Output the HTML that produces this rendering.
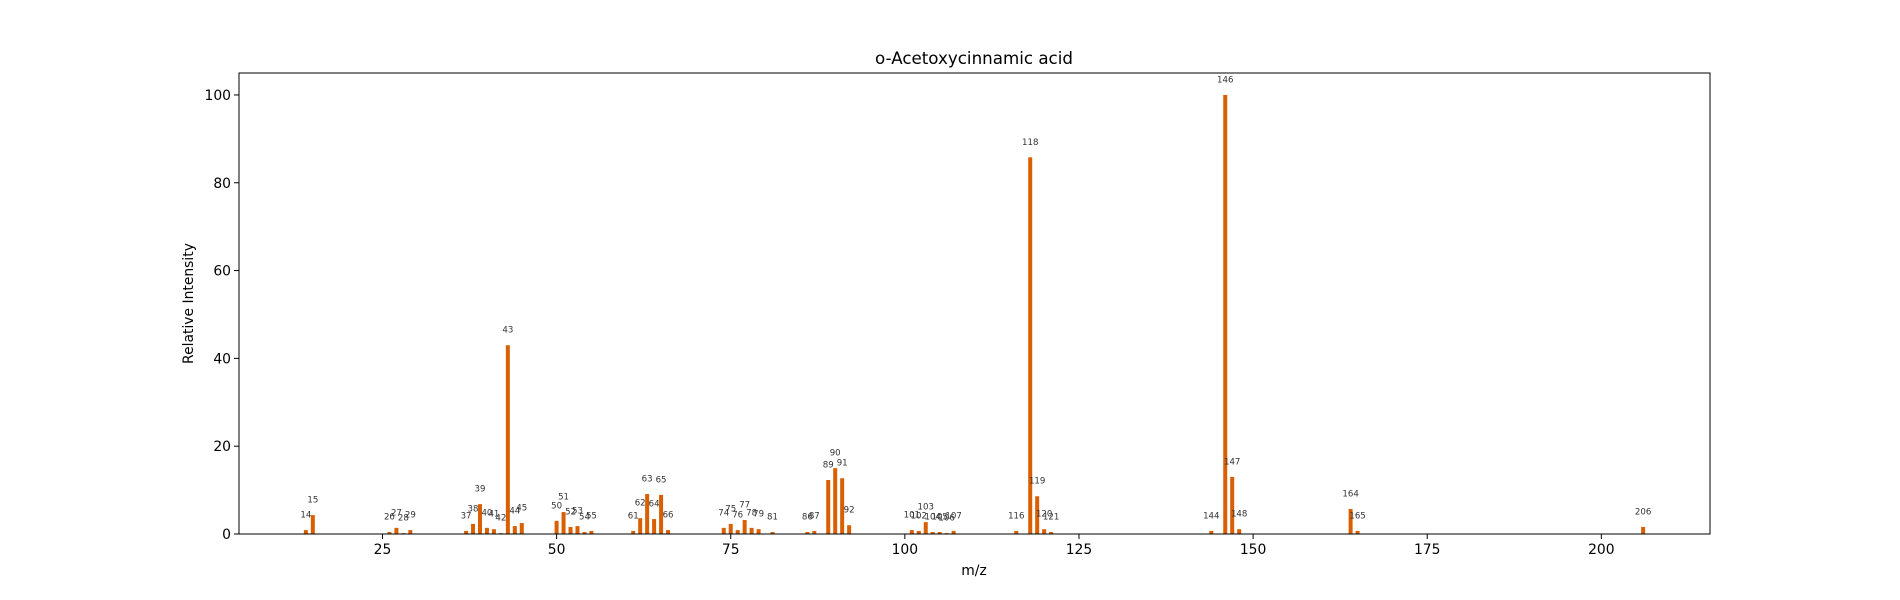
<!DOCTYPE html>
<html><head><meta charset="utf-8"><style>
body{margin:0;background:#fff;}
svg{display:block;font-family:"DejaVu Sans","Liberation Sans",sans-serif;}
</style></head><body>
<svg id="chart" width="1900" height="600" viewBox="0 0 1900 600" xmlns="http://www.w3.org/2000/svg">
<rect width="1900" height="600" fill="#fff"/>
<text x="974" y="64" font-size="16.7" text-anchor="middle" fill="#000">o-Acetoxycinnamic acid</text>
<g id="bars"></g>
<g id="labels"></g>
<g id="axes"></g>
<text x="974" y="575" font-size="13.9" text-anchor="middle">m/z</text>
<text transform="translate(193,303.5) rotate(-90)" font-size="13.9" text-anchor="middle">Relative Intensity</text>
</svg>
<script>
const mz = [14,15,26,27,28,29,37,38,39,40,41,42,43,44,45,50,51,52,53,54,55,61,62,63,64,65,66,74,75,76,77,78,79,81,86,87,89,90,91,92,101,102,103,104,105,106,107,116,118,119,120,121,144,146,147,148,164,165,206];
const intensity = [0.9,4.3,0.45,1.4,0.2,0.9,0.7,2.3,6.8,1.4,1.1,0.2,43,1.8,2.5,3.0,5.0,1.6,1.8,0.45,0.7,0.7,3.6,9.1,3.4,8.9,0.9,1.4,2.3,0.9,3.2,1.4,1.1,0.45,0.45,0.7,12.3,15,12.7,2.0,0.9,0.7,2.7,0.45,0.45,0.2,0.7,0.7,85.8,8.6,1.1,0.45,0.7,100,13.0,1.1,5.7,0.7,1.6];
const xTicks = [25,50,75,100,125,150,175,200];
const yTicks = [0,20,40,60,80,100];
const xMin=4.4, xMax=215.6, yMin=0, yMax=105;
const L=239, R=1710, T=73, B=534;
const NS='http://www.w3.org/2000/svg';
const xs = v => L + (v - xMin) / (xMax - xMin) * (R - L);
const ys = v => B - (v - yMin) / (yMax - yMin) * (B - T);
function mk(tag, attrs, parent){const e=document.createElementNS(NS,tag);for(const k in attrs)e.setAttribute(k,attrs[k]);parent.appendChild(e);return e;}
const gb=document.getElementById('bars'), gl=document.getElementById('labels'), ga=document.getElementById('axes');
mz.forEach((m,i)=>{
  const v=intensity[i];
  const r=mk('rect',{x:xs(m)-2,y:ys(v),width:4,height:B-ys(v),fill:'#d95f02'},gb);
  
  
  const t=mk('text',{x:xs(m),y:ys(v)-12.5,'font-size':'8.6','text-anchor':'middle',fill:'#333'},gl);
  t.textContent=m;
  
  
});
const frame=mk('rect',{x:L,y:T,width:R-L,height:B-T,fill:'none',stroke:'#000','stroke-width':1},ga);


xTicks.forEach(v=>{
  const x=xs(v);
  mk('line',{x1:x,x2:x,y1:B,y2:B+5,stroke:'#000'},ga);
  const t=mk('text',{x:x,y:B+20,'font-size':'13.9','text-anchor':'middle'},ga);
  t.textContent=v;
  
  
});
yTicks.forEach(v=>{
  const y=ys(v);
  mk('line',{x1:L-5,x2:L,y1:y,y2:y,stroke:'#000'},ga);
  const t=mk('text',{x:L-8,y:y+5,'font-size':'13.9','text-anchor':'end'},ga);
  t.textContent=v;
  
  
});
</script>
</body></html>
